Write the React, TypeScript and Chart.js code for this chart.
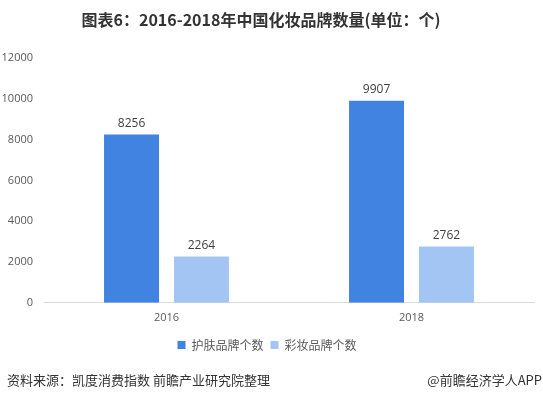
import React, { useEffect, useRef } from "react";
import { Chart, registerables } from "chart.js";

Chart.register(...registerables);

const chartTitle = "图表6：2016-2018年中国化妆品牌数量(单位：个)";
const categories = ["2016", "2018"];
const skincareLabel = "护肤品牌个数";
const makeupLabel = "彩妆品牌个数";
const skincareValues = [8256, 9907];
const makeupValues = [2264, 2762];
const yMin = 0;
const yMax = 12000;
const yStep = 2000;
const sourceText = "资料来源：凯度消费指数 前瞻产业研究院整理";
const brandText = "@前瞻经济学人APP";

const CJK = '"Noto Sans CJK SC", "Open Sans", sans-serif';
const NUM = '"Open Sans", "Noto Sans CJK SC", sans-serif';

const dataLabelPlugin = {
  id: "dataLabels",
  afterDatasetsDraw(chart: any) {
    const ctx = chart.ctx;
    ctx.save();
    ctx.font = `12px ${NUM}`;
    ctx.fillStyle = "#404040";
    ctx.textAlign = "center";
    ctx.textBaseline = "bottom";
    chart.data.datasets.forEach((ds: any, i: number) => {
      const meta = chart.getDatasetMeta(i);
      meta.data.forEach((bar: any, j: number) => {
        ctx.fillText(String(ds.data[j]), bar.x, bar.y - 5);
      });
    });
    ctx.restore();
  },
};

const textPlugin = {
  id: "headerFooterText",
  afterDraw(chart: any) {
    const ctx = chart.ctx;
    ctx.save();
    ctx.font = `bold 16px ${CJK}`;
    ctx.fillStyle = "#333333";
    ctx.textBaseline = "middle";
    ctx.textAlign = "center";
    ctx.fillText(chartTitle, 261, 20);
    ctx.font = `13px ${CJK}`;
    ctx.textAlign = "left";
    ctx.fillText(sourceText, 7, 380);
    ctx.textAlign = "right";
    ctx.fillText(brandText, 542, 380);
    ctx.restore();
  },
};

export default function App() {
  const ref = useRef<HTMLCanvasElement>(null);
  useEffect(() => {
    if (!ref.current) return;
    const chart = new Chart(ref.current, {
      type: "bar",
      data: {
        labels: categories,
        datasets: [
          {
            label: skincareLabel,
            data: skincareValues,
            backgroundColor: "#4083E0",
            borderWidth: 0,
            categoryPercentage: 0.571,
            barPercentage: 0.786,
          },
          {
            label: makeupLabel,
            data: makeupValues,
            backgroundColor: "#A3C5F3",
            borderWidth: 0,
            categoryPercentage: 0.571,
            barPercentage: 0.786,
          },
        ],
      },
      options: {
        responsive: false,
        animation: false,
        layout: { padding: { left: 0, right: 9, top: 58, bottom: 39 } },
        plugins: {
          title: { display: false },
          legend: {
            position: "bottom",
            labels: {
              boxWidth: 8,
              boxHeight: 8,
              color: "#595959",
              font: { size: 12, family: CJK },
              padding: 7,
            },
          },
          tooltip: { enabled: false },
        },
        scales: {
          x: {
            grid: { display: false, drawTicks: false },
            border: { display: true, color: "#d9d9d9", width: 1 },
            ticks: { color: "#595959", font: { size: 11, family: NUM }, padding: 8 },
          },
          y: {
            min: yMin,
            max: yMax,
            grid: { display: false, drawTicks: false },
            border: { display: false },
            ticks: {
              stepSize: yStep,
              color: "#595959",
              font: { size: 11, family: NUM },
              padding: 11,
              callback: (v: any) => String(v),
            },
            afterFit(scale: any) {
              scale.width = 44;
            },
          },
        },
      },
      plugins: [dataLabelPlugin, textPlugin],
    });
    return () => chart.destroy();
  }, []);
  return (
    <div style={{ position: "absolute", left: 0, top: 0, width: 543, height: 400, background: "#fff" }}>
      <canvas ref={ref} width={543} height={400} />
    </div>
  );
}
